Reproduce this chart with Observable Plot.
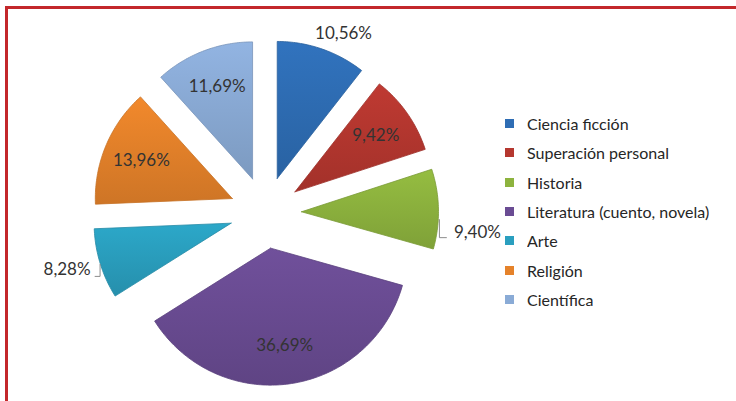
<!DOCTYPE html>
<html><head><meta charset="utf-8">
<script src="https://cdn.jsdelivr.net/npm/d3@7"></script>
<script src="https://cdn.jsdelivr.net/npm/@observablehq/plot@0.6"></script>
<style>
body{margin:0;background:#fff;}
#wrap{position:relative;width:736px;height:401px;overflow:hidden;background:#fff;}
#frame{position:absolute;left:5px;top:6px;width:800px;height:500px;border:3px solid #c3282b;box-sizing:border-box;}
#chart{position:absolute;left:0;top:0;}
#legend{position:absolute;left:505px;top:109px;}
#legend .lg-swatch{height:29.3px;padding:0 !important;margin:0 !important;}
#legend svg{margin-right:13px !important;}
#legend .lg-swatch-label{font-family:Lato,"Open Sans",sans-serif;font-size:16px;color:#262626;}
</style></head><body>
<div id="wrap"><div id="frame"></div><div id="chart"></div><div id="legend"></div></div>
<script>
// ---- data ----
const categories = ["Ciencia ficción","Superación personal","Historia","Literatura (cuento, novela)","Arte","Religión","Científica"];
const shares = [10.56, 9.42, 9.40, 36.69, 8.28, 13.96, 11.69];
const valueLabels = ["10,56%","9,42%","9,40%","36,69%","8,28%","13,96%","11,69%"];
const palette = ["#2e6db4","#b5372f","#8db33e","#6a4c93","#2a9fbf","#e5822a","#8aabd6"];

// ---- layout (code, not data) ----
const W = 736, H = 401, R = 137, CX = 265, CY = 212;
const explode = 36 / R;
const outsideLabels = new Set(["Ciencia ficción","Historia","Arte"]);
const labelNudge = {"Ciencia ficción": [9, 3], "Historia": [0, 24], "Arte": [4, 0]}; // pixels
const total = d3.sum(shares);

const slicePts = [];
const labelPts = [];
const leaders = [];
let a = 0;
categories.forEach((cat, i) => {
  const span = shares[i] / total * 2 * Math.PI;
  const a0 = a, a1 = a + span, mid = (a0 + a1) / 2;
  a = a1;
  const ox = explode * Math.sin(mid), oy = explode * Math.cos(mid);
  slicePts.push({cat, x: ox, y: oy});
  const n = Math.max(4, Math.ceil(span / (Math.PI / 180)));
  for (let k = 0; k <= n; ++k) {
    const t = a0 + (a1 - a0) * k / n;
    slicePts.push({cat, x: ox + Math.sin(t), y: oy + Math.cos(t)});
  }
  slicePts.push({cat, x: ox, y: oy});
  let lx, ly;
  const w = 56 / R, h = 16 / R;
  if (outsideLabels.has(cat)) {
    const d = explode + 1.08;
    lx = d * Math.sin(mid) + Math.sin(mid) * w / 2;
    ly = d * Math.cos(mid) + Math.cos(mid) * h / 2;
    const nd = labelNudge[cat] || [0, 0];
    lx += nd[0] / R; ly -= nd[1] / R;
    if (Math.abs(Math.sin(mid)) > 0.8) {
      if (Math.sin(mid) > 0) {
        const left = lx - w / 2;
        leaders.push([{g:cat,x:left-10/R,y:ly+13/R},{g:cat,x:left-10/R,y:ly-5/R},{g:cat,x:left-3/R,y:ly-5/R}]);
      } else {
        const right = lx + w / 2;
        leaders.push([{g:cat,x:right,y:ly-7/R},{g:cat,x:right+5/R,y:ly-7/R},{g:cat,x:right+5/R,y:ly+5/R}]);
      }
    }
  } else {
    const d = explode + 0.72;
    lx = d * Math.sin(mid); ly = d * Math.cos(mid);
  }
  labelPts.push({cat, x: lx, y: ly, text: valueLabels[i]});
});

const chart = Plot.plot({
  width: W, height: H,
  marginTop: 0, marginBottom: 0, marginLeft: 0, marginRight: 0,
  x: {domain: [-CX / R, (W - CX) / R], axis: null},
  y: {domain: [-(H - CY) / R, CY / R], axis: null},
  color: {domain: categories, range: palette},
  style: {background: "transparent", overflow: "visible"},
  marks: [
    Plot.line(slicePts, {x: "x", y: "y", z: "cat", fill: "cat", stroke: "cat", strokeWidth: 0.8, curve: "linear"}),
    Plot.line(leaders.flat(), {x: "x", y: "y", z: "g", stroke: "#8c8c8c", strokeWidth: 1}),
    Plot.text(labelPts, {x: "x", y: "y", text: "text", fontSize: 17, fill: "#333333",
      fontFamily: "Lato, 'Open Sans', sans-serif", textAnchor: "middle", lineAnchor: "middle"})
  ]
});

// gradient shading for a soft bevel look
const defs = d3.select(chart).insert("defs", ":first-child");
d3.select(chart).selectAll('g[aria-label="line"] path').each(function() {
  const f = this.getAttribute("fill");
  if (!f || f === "none") return;
  const id = "g" + f.replace(/[^0-9a-z]/gi, "");
  if (defs.select("#" + id).empty()) {
    const lg = defs.append("linearGradient").attr("id", id).attr("x1", 0).attr("y1", 0).attr("x2", 0).attr("y2", 1);
    lg.append("stop").attr("offset", "0%").attr("stop-color", d3.color(f).brighter(0.15));
    lg.append("stop").attr("offset", "100%").attr("stop-color", d3.color(f).darker(0.3));
  }
  this.setAttribute("fill", `url(#${id})`);
  this.setAttribute("stroke", d3.color(f).darker(0.4));
});

document.getElementById("chart").appendChild(chart);

const legend = Plot.legend({
  color: {domain: categories, range: palette},
  legend: "swatches", columns: 1, swatchSize: 9, className: "lg", width: 230
});
document.getElementById("legend").appendChild(legend);
</script>
</body></html>
